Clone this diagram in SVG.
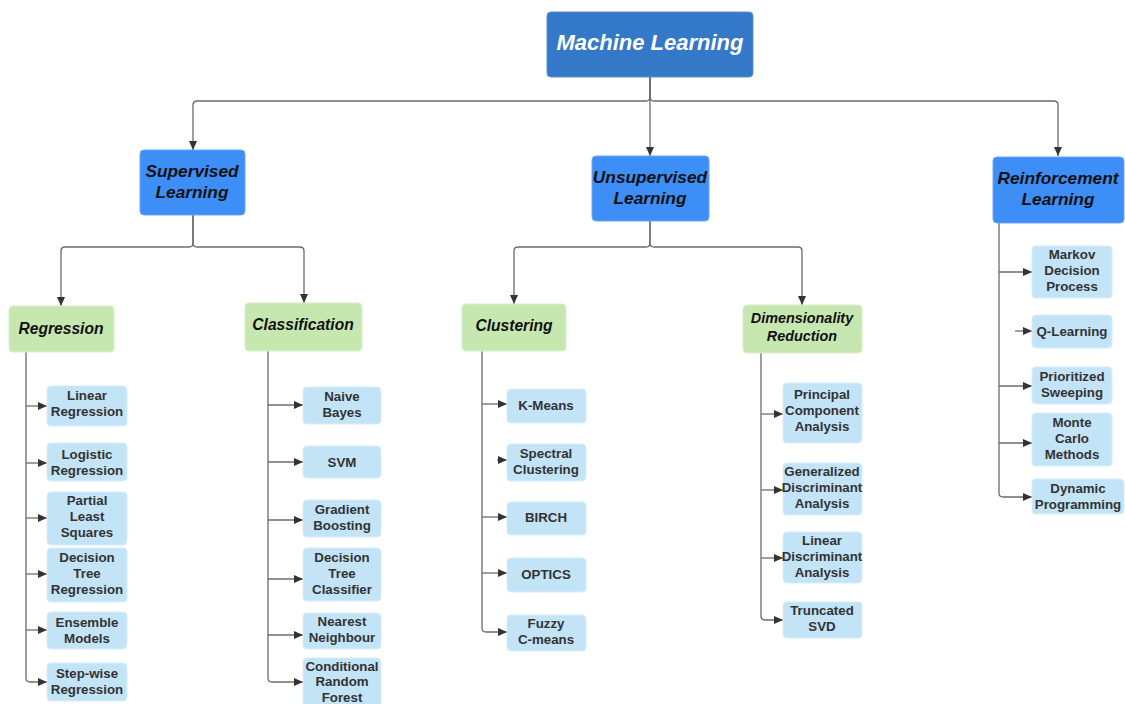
<svg xmlns="http://www.w3.org/2000/svg" width="1125" height="704" viewBox="0 0 1125 704">
<defs>
<marker id="ah" markerUnits="userSpaceOnUse" markerWidth="10" markerHeight="10" refX="9" refY="5" orient="auto">
<path d="M0,1 L9,5 L0,9 Z" fill="#333"/>
</marker>
<style>
.c{fill:none;stroke:#6b6b6b;stroke-width:1.3;marker-end:url(#ah)}
.root{fill:#3478c8;stroke:#5a8fd0;stroke-width:1}
.l1{fill:#3d8ef6;stroke:#6aa8f6;stroke-width:1}
.l2{fill:#c7e7b1;stroke:#d8efc7;stroke-width:1}
.lf{fill:#c3e3f7;stroke:#d6ecfa;stroke-width:1}
.tr{font-family:"Liberation Sans",Arial,sans-serif;font-weight:bold;font-style:italic;font-size:22px;fill:#fff;text-anchor:middle}
.t1{font-family:"Liberation Sans",Arial,sans-serif;font-weight:bold;font-style:italic;font-size:17.3px;fill:#111;text-anchor:middle}
.t2{font-family:"Liberation Sans",Arial,sans-serif;font-weight:bold;font-style:italic;font-size:15.6px;fill:#111;text-anchor:middle}
.t2s{font-family:"Liberation Sans",Arial,sans-serif;font-weight:bold;font-style:italic;font-size:14.4px;fill:#111;text-anchor:middle}
.tl{font-family:"Liberation Sans",Arial,sans-serif;font-weight:bold;font-size:13.3px;fill:#333;text-anchor:middle}
</style>
</defs>
<g id="connectors">
<path class="c" d="M650,77 V97 Q650,101 646,101 H197 Q193,101 193,105 V150"/>
<path class="c" d="M650,77 V156"/>
<path class="c" d="M650,77 V97 Q650,101 654,101 H1054 Q1058,101 1058,105 V156"/>
<path class="c" d="M193,215 V243 Q193,247 189,247 H65 Q61,247 61,251 V306"/>
<path class="c" d="M193,215 V243 Q193,247 197,247 H300 Q304,247 304,251 V303"/>
<path class="c" d="M650,221 V243 Q650,247 646,247 H518 Q514,247 514,251 V304"/>
<path class="c" d="M650,221 V243 Q650,247 654,247 H798 Q802,247 802,251 V305"/>
<path class="c" d="M26,352 V678 Q26,682 30,682 H47"/>
<path class="c" d="M26,406 H47"/>
<path class="c" d="M26,463 H47"/>
<path class="c" d="M26,518 H47"/>
<path class="c" d="M26,574 H47"/>
<path class="c" d="M26,630 H47"/>
<path class="c" d="M268,351 V678 Q268,682 272,682 H303"/>
<path class="c" d="M268,405 H303"/>
<path class="c" d="M268,462 H303"/>
<path class="c" d="M268,520 H303"/>
<path class="c" d="M268,579 H303"/>
<path class="c" d="M268,635 H303"/>
<path class="c" d="M482,351 V628 Q482,632 486,632 H507"/>
<path class="c" d="M482,404 H507"/>
<path class="c" d="M497,460 H507"/>
<path class="c" d="M482,517 H507"/>
<path class="c" d="M482,573 H507"/>
<path class="c" d="M761,353 V616 Q761,620 765,620 H783"/>
<path class="c" d="M761,414 H783"/>
<path class="c" d="M761,490 H783"/>
<path class="c" d="M761,558 H783"/>
<path class="c" d="M999,223 V493 Q999,497 1003,497 H1032"/>
<path class="c" d="M999,272 H1032"/>
<path class="c" d="M1015,331 H1032"/>
<path class="c" d="M999,386 H1032"/>
<path class="c" d="M999,443 H1032"/>
</g>
<g id="machine-learning"><rect class="root" x="547" y="12" width="206" height="65" rx="4"/><text class="tr" x="650" y="50">Machine Learning</text></g>
<g id="supervised"><rect class="l1" x="140" y="150" width="105" height="65" rx="4"/><text class="t1" x="192" y="177">Supervised</text><text class="t1" x="192" y="198">Learning</text></g>
<g id="unsupervised"><rect class="l1" x="592" y="156" width="117" height="65" rx="4"/><text class="t1" x="650" y="183">Unsupervised</text><text class="t1" x="650" y="204">Learning</text></g>
<g id="reinforcement"><rect class="l1" x="993" y="157" width="131" height="66" rx="4"/><text class="t1" x="1058" y="184">Reinforcement</text><text class="t1" x="1058" y="205">Learning</text></g>
<g id="regression"><rect class="l2" x="9" y="306" width="105" height="46" rx="4"/><text class="t2" x="61" y="334">Regression</text></g>
<g id="classification"><rect class="l2" x="245" y="303" width="117" height="48" rx="4"/><text class="t2" x="303" y="330">Classification</text></g>
<g id="clustering"><rect class="l2" x="462" y="304" width="104" height="47" rx="4"/><text class="t2" x="514" y="331">Clustering</text></g>
<g id="dimensionality"><rect class="l2" x="743" y="305" width="119" height="48" rx="4"/><text class="t2s" x="802" y="323">Dimensionality</text><text class="t2s" x="802" y="341">Reduction</text></g>
<g id="linear-regression"><rect class="lf" x="47" y="386" width="80" height="40" rx="4"/><text class="tl" x="87" y="400">Linear</text><text class="tl" x="87" y="416">Regression</text></g>
<g id="logistic-regression"><rect class="lf" x="47" y="443" width="80" height="38" rx="4"/><text class="tl" x="87" y="459">Logistic</text><text class="tl" x="87" y="475">Regression</text></g>
<g id="partial-least-squares"><rect class="lf" x="47" y="492" width="80" height="53" rx="4"/><text class="tl" x="87" y="505">Partial</text><text class="tl" x="87" y="521">Least</text><text class="tl" x="87" y="537">Squares</text></g>
<g id="decision-tree-regression"><rect class="lf" x="47" y="548" width="80" height="54" rx="4"/><text class="tl" x="87" y="562">Decision</text><text class="tl" x="87" y="578">Tree</text><text class="tl" x="87" y="594">Regression</text></g>
<g id="ensemble-models"><rect class="lf" x="47" y="612" width="80" height="37" rx="4"/><text class="tl" x="87" y="627">Ensemble</text><text class="tl" x="87" y="643">Models</text></g>
<g id="step-wise-regression"><rect class="lf" x="47" y="663" width="80" height="38" rx="4"/><text class="tl" x="87" y="678">Step-wise</text><text class="tl" x="87" y="694">Regression</text></g>
<g id="naive-bayes"><rect class="lf" x="303" y="387" width="78" height="37" rx="4"/><text class="tl" x="342" y="401">Naive</text><text class="tl" x="342" y="417">Bayes</text></g>
<g id="svm"><rect class="lf" x="303" y="446" width="78" height="32" rx="4"/><text class="tl" x="342" y="467">SVM</text></g>
<g id="gradient-boosting"><rect class="lf" x="303" y="500" width="78" height="37" rx="4"/><text class="tl" x="342" y="514">Gradient</text><text class="tl" x="342" y="530">Boosting</text></g>
<g id="decision-tree-classifier"><rect class="lf" x="303" y="548" width="78" height="53" rx="4"/><text class="tl" x="342" y="562">Decision</text><text class="tl" x="342" y="578">Tree</text><text class="tl" x="342" y="594">Classifier</text></g>
<g id="nearest-neighbour"><rect class="lf" x="303" y="613" width="78" height="36" rx="4"/><text class="tl" x="342" y="626">Nearest</text><text class="tl" x="342" y="642">Neighbour</text></g>
<g id="conditional-random-forest"><rect class="lf" x="303" y="658" width="78" height="52" rx="4"/><text class="tl" x="342" y="671">Conditional</text><text class="tl" x="342" y="686">Random</text><text class="tl" x="342" y="702">Forest</text></g>
<g id="k-means"><rect class="lf" x="507" y="389" width="79" height="34" rx="4"/><text class="tl" x="546" y="410">K-Means</text></g>
<g id="spectral-clustering"><rect class="lf" x="507" y="444" width="79" height="37" rx="4"/><text class="tl" x="546" y="458">Spectral</text><text class="tl" x="546" y="474">Clustering</text></g>
<g id="birch"><rect class="lf" x="507" y="502" width="79" height="33" rx="4"/><text class="tl" x="546" y="522">BIRCH</text></g>
<g id="optics"><rect class="lf" x="507" y="558" width="79" height="34" rx="4"/><text class="tl" x="546" y="579">OPTICS</text></g>
<g id="fuzzy-c-means"><rect class="lf" x="507" y="615" width="79" height="36" rx="4"/><text class="tl" x="546" y="628">Fuzzy</text><text class="tl" x="546" y="644">C-means</text></g>
<g id="pca"><rect class="lf" x="783" y="383" width="79" height="60" rx="4"/><text class="tl" x="822" y="399">Principal</text><text class="tl" x="822" y="415">Component</text><text class="tl" x="822" y="431">Analysis</text></g>
<g id="gda"><rect class="lf" x="783" y="463" width="79" height="52" rx="4"/><text class="tl" x="822" y="476">Generalized</text><text class="tl" x="822" y="492">Discriminant</text><text class="tl" x="822" y="508">Analysis</text></g>
<g id="lda"><rect class="lf" x="783" y="532" width="79" height="51" rx="4"/><text class="tl" x="822" y="545">Linear</text><text class="tl" x="822" y="561">Discriminant</text><text class="tl" x="822" y="577">Analysis</text></g>
<g id="truncated-svd"><rect class="lf" x="783" y="602" width="79" height="36" rx="4"/><text class="tl" x="822" y="615">Truncated</text><text class="tl" x="822" y="631">SVD</text></g>
<g id="markov"><rect class="lf" x="1032" y="246" width="80" height="52" rx="4"/><text class="tl" x="1072" y="259">Markov</text><text class="tl" x="1072" y="275">Decision</text><text class="tl" x="1072" y="291">Process</text></g>
<g id="q-learning"><rect class="lf" x="1032" y="315" width="80" height="33" rx="4"/><text class="tl" x="1072" y="336">Q-Learning</text></g>
<g id="prioritized-sweeping"><rect class="lf" x="1032" y="367" width="80" height="37" rx="4"/><text class="tl" x="1072" y="381">Prioritized</text><text class="tl" x="1072" y="397">Sweeping</text></g>
<g id="monte-carlo"><rect class="lf" x="1032" y="413" width="80" height="53" rx="4"/><text class="tl" x="1072" y="427">Monte</text><text class="tl" x="1072" y="443">Carlo</text><text class="tl" x="1072" y="459">Methods</text></g>
<g id="dynamic-programming"><rect class="lf" x="1032" y="479" width="92" height="35" rx="4"/><text class="tl" x="1078" y="493">Dynamic</text><text class="tl" x="1078" y="509">Programming</text></g>
</svg>
